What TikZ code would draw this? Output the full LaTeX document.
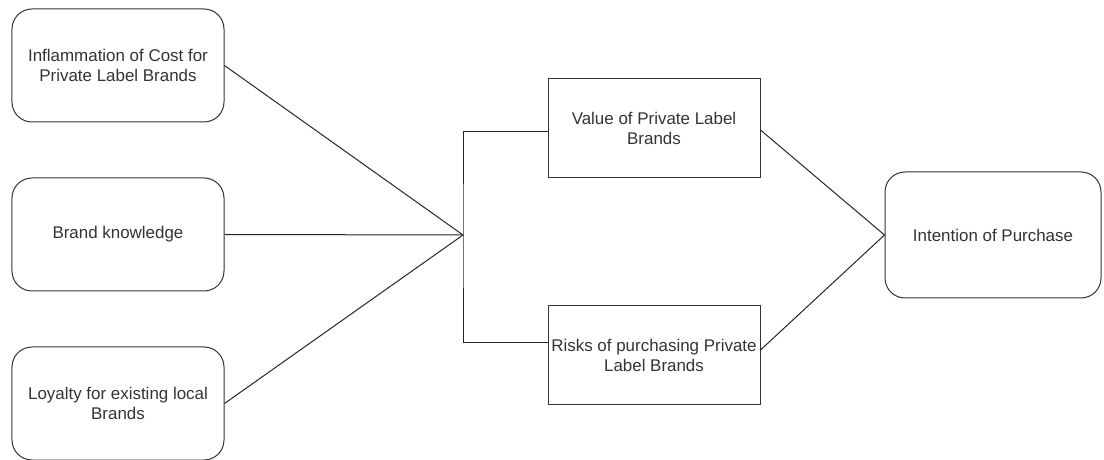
\documentclass[tikz,border=0pt]{standalone}
\usepackage{fontspec}
\setmainfont{Liberation Sans}
\usetikzlibrary{positioning}

\begin{document}
\begin{tikzpicture}[x=1bp, y=-1bp, auto,swap,
  factor/.style={draw=black!80, line width=1bp, rounded corners=20bp, minimum width=212bp, minimum height=113bp, inner sep=0pt, align=center, text=black!80, font=\fontsize{17}{20}\selectfont},
  mediator/.style={factor, rounded corners=0pt, minimum height=99bp},
  link/.style={draw=black!85, line width=1bp}]

 \useasboundingbox (0,0) rectangle (1104,460);

 %level 1
 \foreach \y/\name/\txt in {65.5/infl/{Inflammation of Cost for\\Private Label Brands}, 234.5/know/{Brand knowledge}, 403.5/loyal/{Loyalty for existing local\\Brands}} {
         \node[factor] (\name) at (118,\y) {\txt};
 }

 %join
 \coordinate (hub) at (463,235);
 \foreach \name in {infl, know, loyal} {
         \draw[link] (\name.east) -- (hub);
 }

 %level 2
 \node[mediator] (value) at (654,128.5) {Value of Private Label\\Brands};
 \node[mediator] (risks) at (654,355) {Risks of purchasing Private\\Label Brands};

 \draw[link] ([yshift=-3.5bp]value.west) -| (hub) |- ([yshift=12bp]risks.west);

 %level 3
 \node[factor, minimum width=216bp, minimum height=126bp] (intent) at (993,235) {Intention of Purchase};

 \draw[link] ([yshift=-1.5bp]value.east) -- (intent.west);
 \draw[link] ([yshift=5bp]risks.east) -- (intent.west);

\end{tikzpicture}
\end{document}
